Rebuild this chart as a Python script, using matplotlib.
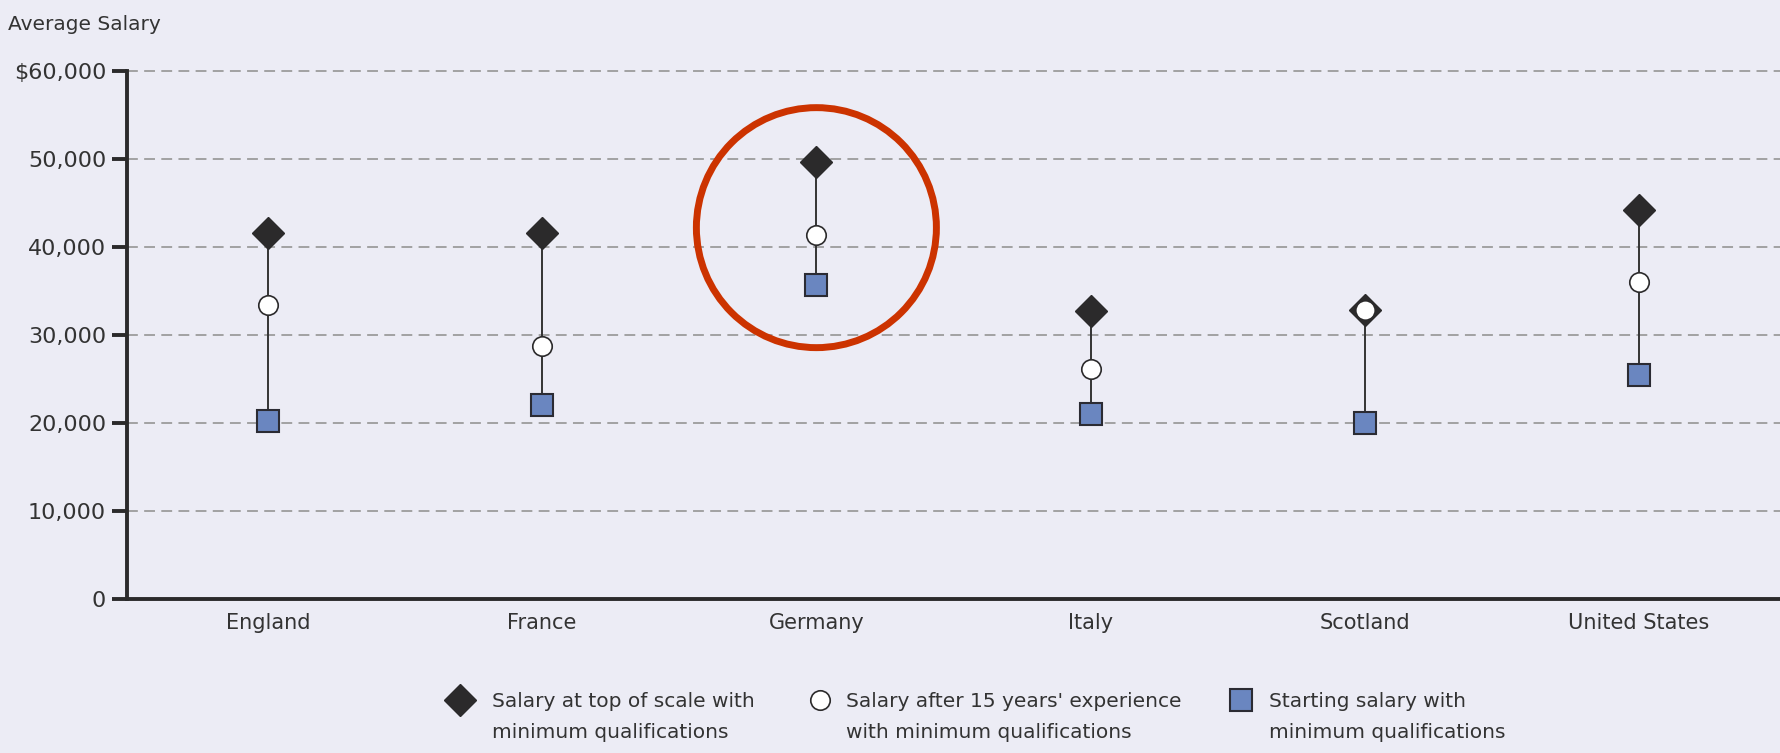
import matplotlib
matplotlib.use('Agg')
import matplotlib.pyplot as plt
import numpy as np
from matplotlib.patches import Ellipse
from matplotlib.lines import Line2D

plt.rcParams['font.family'] = ['DejaVu Sans']

countries = ['England', 'France', 'Germany', 'Italy', 'Scotland', 'United States']
top_salary = [41600, 41600, 49700, 32700, 32800, 44200]
after_15 = [33400, 28700, 41400, 26100, 32800, 36050]
starting = [20250, 22000, 35700, 21000, 20050, 25500]
yticks = [0, 10000, 20000, 30000, 40000, 50000, 60000]
ytick_labels = ['0', '10,000', '20,000', '30,000', '40,000', '50,000', '$60,000']
legend_labels = ["Salary at top of scale with\nminimum qualifications",
                 "Salary after 15 years' experience\nwith minimum qualifications",
                 "Starting salary with\nminimum qualifications"]

bg = '#ececf5'
dark = '#2b2a2b'
blue = '#6a86c0'
txt = '#333333'

fig = plt.figure(figsize=(17.8, 7.53), dpi=100)
fig.patch.set_facecolor(bg)
ax = fig.add_axes([127 / 1780, 154 / 753, 1 - 127 / 1780, 528 / 753])
ax.set_facecolor(bg)

x = np.arange(len(countries))

# dashed grid lines
for v in yticks[1:]:
    ax.axhline(v, color='#9c9c9c', lw=1.3, ls=(0, (6, 3.5)), zorder=1, clip_on=False)

# vertical connectors between lowest and highest salary
for xi, lo, hi in zip(x, starting, top_salary):
    ax.plot([xi, xi], [lo, hi], color='#333333', lw=1.4, zorder=2)

ax.plot(x, top_salary, ls='none', marker='D', ms=16, mfc=dark, mec=dark, zorder=3)
ax.plot(x, after_15, ls='none', marker='o', ms=14, mfc='white', mec=dark, mew=1.2, zorder=4)
ax.plot(x, starting, ls='none', marker='s', ms=16.5, mfc=blue, mec='#2b2b33', mew=1.5, zorder=4)

# highlight circle around Germany
ax.add_patch(Ellipse((2, 42200), width=240 / 274.2, height=240 / 0.0088,
                     fill=False, ec='#cc3300', lw=5, zorder=5, clip_on=False))

ax.set_xlim(-0.514, 5.514)
ax.set_ylim(0, 60000)
ax.set_xticks(x)
ax.set_xticklabels(countries, fontsize=15, color=txt)
ax.tick_params(axis='x', length=0, pad=10)
ax.set_yticks(yticks)
ax.set_yticklabels(ytick_labels, fontsize=16, color=txt)
ax.tick_params(axis='y', length=11, width=2.8, color=dark, pad=4)

for s in ['top', 'right']:
    ax.spines[s].set_visible(False)
for s in ['left', 'bottom']:
    ax.spines[s].set_linewidth(2.8)
    ax.spines[s].set_color(dark)

fig.text(8 / 1780, 1 - 25 / 753, 'Average Salary', fontsize=14.5, color=txt, va='center', ha='left')

# legend drawn by hand
marker_x = [460, 820, 1241]
text_x = [492, 846, 1269]
styles = [dict(marker='D', ms=16, mfc=dark, mec=dark),
          dict(marker='o', ms=14, mfc='white', mec=dark, mew=1.2),
          dict(marker='s', ms=16.5, mfc=blue, mec='#2b2b33', mew=1.5)]
for mx, tx, st, lab in zip(marker_x, text_x, styles, legend_labels):
    fig.add_artist(Line2D([mx / 1780], [1 - 700 / 753], ls='none', transform=fig.transFigure, **st))
    fig.text(tx / 1780, 1 - 717 / 753, lab, fontsize=14.5, color=txt, va='center', ha='left',
             linespacing=1.8)

fig.savefig('out.png', dpi=100, facecolor=bg)
